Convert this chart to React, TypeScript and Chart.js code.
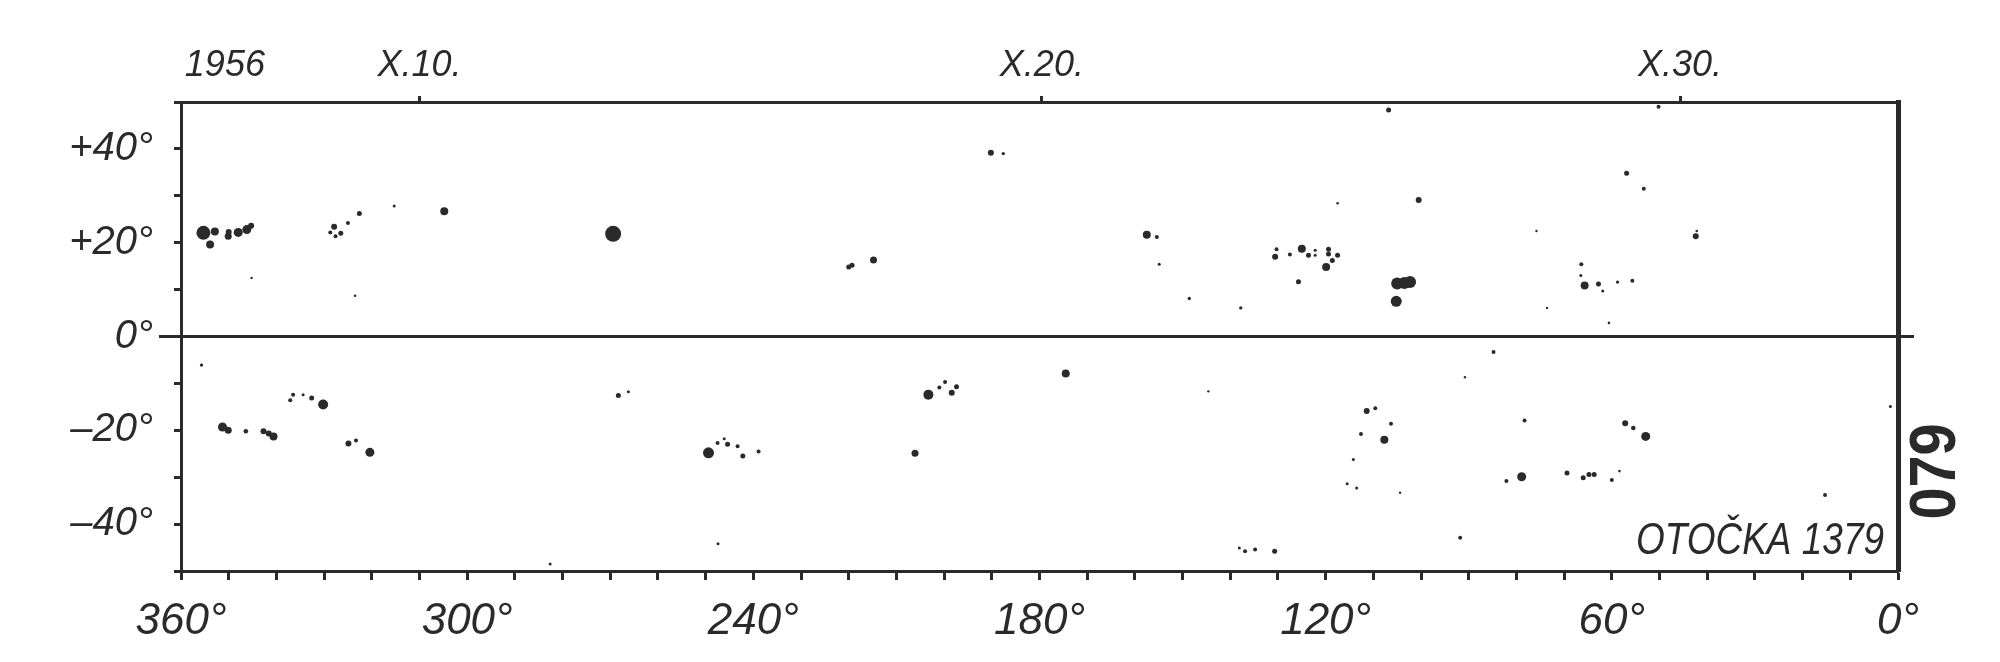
import React, { useEffect, useRef } from 'react';
import { Chart, registerables } from 'chart.js';

Chart.register(...registerables);

const INK = '#2a2a2a';
const FONT = '"Liberation Sans", Arial, sans-serif';
const INK_SPREAD = 0.5;

// Carrington longitude (deg), heliographic latitude (deg), spot radius (px) — northern hemisphere
const northLon = [355.3, 352.9, 353.9, 350.1, 350.0, 348.0, 346.2, 345.3, 327.9, 328.7, 326.5, 327.6, 325.0, 322.6, 315.3, 304.8, 323.5, 345.2,
  269.4, 190.2, 187.6, 220.0, 219.3, 214.8, 157.5, 155.4, 154.9, 148.6, 137.8,
  130.6, 130.3, 127.5, 125.0, 123.6, 122.2, 122.2, 119.4, 119.4, 119.9, 118.6, 117.5, 125.7, 117.5,
  106.8, 100.5, 105.0, 103.5, 102.3, 105.2, 66.4, 66.5, 65.7, 62.8, 61.9, 58.8, 56.9, 75.8, 73.6, 60.6,
  50.2, 53.3, 42.4, 42.2, 55.7];
const northLat = [22.1, 22.4, 19.6, 21.4, 22.3, 22.2, 22.8, 23.6, 23.4, 22.2, 22.0, 21.4, 24.2, 26.2, 27.8, 26.7, 8.7, 12.5,
  21.9, 39.2, 39.0, 14.8, 15.2, 16.3, 21.7, 21.2, 15.4, 8.1, 6.1,
  17.0, 18.6, 17.5, 18.7, 17.3, 18.4, 17.3, 18.6, 17.6, 14.8, 16.2, 17.3, 11.7, 28.4,
  48.3, 29.1, 11.3, 11.4, 11.6, 7.5, 15.4, 13.0, 10.9, 11.2, 9.7, 11.6, 34.8, 22.5, 6.1, 2.9,
  49.0, 31.5, 21.4, 22.5, 11.9];
const northSize = [6.5, 3.5, 3.5, 3, 2.5, 4, 4, 2.5, 2.5, 1.5, 2, 1.5, 1.5, 2, 1, 3.5, 0.8, 0.7,
  7.5, 2.5, 1.2, 2, 2, 3, 3.5, 1.5, 1, 1.2, 1.2,
  2.5, 1.5, 1.5, 3.5, 2, 1, 1, 2, 2, 3.5, 2, 2, 2, 0.8,
  2, 2.5, 5.5, 5.5, 5.5, 5, 1.5, 1, 3.5, 2, 1, 1.2, 2, 0.7, 0.7, 0.8,
  1.5, 1.5, 2.5, 0.8, 1.5];

// southern hemisphere
const southLon = [355.7, 351.3, 350.1, 346.4, 342.7, 341.6, 340.6, 336.5, 337.1, 334.4, 332.6, 330.2, 324.9, 323.3, 320.4,
  268.3, 266.2, 249.4, 247.5, 246.1, 245.4, 243.3, 242.2, 238.9, 247.4, 282.6,
  203.3, 201.0, 199.8, 198.4, 197.4, 206.1, 174.5, 144.6, 138.1, 136.9, 134.8, 130.7,
  84.8, 90.8, 111.4, 109.6, 106.3, 112.6, 107.7, 114.2, 115.5, 113.5, 104.4,
  78.3, 82.1, 78.9, 69.4, 66.0, 64.8, 63.7, 60.0, 58.4, 57.2, 55.5, 52.9, 91.8, 15.3, 1.6];
const southLat = [-6.1, -19.3, -20.0, -20.2, -20.2, -20.7, -21.3, -12.4, -13.6, -12.4, -13.1, -14.5, -22.8, -22.2, -24.7,
  -12.6, -11.8, -24.8, -22.7, -21.8, -23.0, -23.4, -25.5, -24.5, -44.2, -48.5,
  -12.4, -10.9, -9.7, -12.0, -10.7, -24.9, -7.9, -11.7, -45.1, -45.8, -45.4, -45.8,
  -3.3, -8.7, -15.9, -15.3, -18.6, -20.8, -22.0, -26.2, -31.4, -32.3, -33.3,
  -17.9, -30.8, -29.9, -29.1, -30.1, -29.4, -29.4, -30.6, -28.7, -18.5, -19.5, -21.3, -42.9, -33.8, -14.9];
const southSize = [1.2, 4, 3, 1.8, 2.5, 2.5, 3.5, 1.5, 1.5, 1, 2, 4.5, 2.5, 1.5, 4,
  2, 1, 5, 1.5, 1, 2, 1.5, 2, 1.5, 1, 1,
  4.5, 1.5, 1.5, 2.5, 2, 3, 3.5, 0.7, 1, 1.5, 1.5, 2,
  1.5, 0.7, 2.5, 1.5, 1.5, 1.5, 3.5, 1, 1, 1, 0.7,
  1.5, 1.5, 4, 2, 2, 2, 2, 1.5, 0.8, 2.5, 1.8, 4, 1.5, 1.5, 1];

// axis labels
const xLabelValues = [360, 300, 240, 180, 120, 60, 0];
const xLabelTexts = ['360°', '300°', '240°', '180°', '120°', '60°', '0°'];
const yLabelValues = [40, 20, 0, -20, -40];
const yLabelTexts = ['+40°', '+20°', '0°', '–20°', '–40°'];
const topTickValues = [350.8, 310.0, 179.5, 45.7];
const topTickTexts = ['1956', 'X.10.', 'X.20.', 'X.30.'];
const plateLabel = 'OTOČKA 1379';
const plateNumber = '079';

const toPoints = (lon: number[], lat: number[], size: number[]) =>
  lon.map((x, i) => ({ x, y: lat[i], r: size[i] + INK_SPREAD }));

const extras = {
  id: 'extras',
  beforeDatasetsDraw(chart: any) {
    const { ctx, chartArea } = chart;
    const y0 = chart.scales.y.getPixelForValue(0);
    ctx.save();
    ctx.strokeStyle = INK;
    ctx.lineWidth = 3;
    ctx.beginPath();
    ctx.moveTo(chartArea.left - 22, y0);
    ctx.lineTo(chartArea.right + 16, y0);
    ctx.stroke();
    ctx.restore();
  },
  afterDraw(chart: any) {
    const { ctx, chartArea } = chart;
    const sx = 0.84;
    ctx.save();
    ctx.fillStyle = INK;
    ctx.translate(chartArea.right - 14, chartArea.bottom - 17);
    ctx.scale(sx, 1);
    ctx.font = `italic 44px ${FONT}`;
    ctx.textAlign = 'right';
    ctx.textBaseline = 'alphabetic';
    ctx.fillText(plateLabel, 0, 0);
    ctx.restore();

    ctx.save();
    ctx.fillStyle = INK;
    ctx.translate(chartArea.right + 39, chart.scales.y.getPixelForValue(-28.8));
    ctx.rotate(-Math.PI / 2);
    ctx.scale(0.9, 1);
    ctx.font = `bold 64px ${FONT}`;
    ctx.textAlign = 'center';
    ctx.textBaseline = 'middle';
    ctx.fillText(plateNumber, 0, 0);
    ctx.restore();
  },
};

export default function App() {
  const ref = useRef<HTMLCanvasElement | null>(null);

  useEffect(() => {
    if (!ref.current) return;
    const chart = new Chart(ref.current, {
      type: 'bubble',
      data: {
        datasets: [
          { label: 'N', data: toPoints(northLon, northLat, northSize), backgroundColor: INK, borderWidth: 0, xAxisID: 'x', yAxisID: 'y' },
          { label: 'S', data: toPoints(southLon, southLat, southSize), backgroundColor: INK, borderWidth: 0, xAxisID: 'x', yAxisID: 'y' },
        ],
      },
      options: {
        responsive: false,
        maintainAspectRatio: false,
        devicePixelRatio: 1,
        animation: false,
        events: [],
        layout: { padding: 0 },
        plugins: { legend: { display: false }, tooltip: { enabled: false } },
        scales: {
          x: {
            type: 'linear', position: 'bottom', min: 0, max: 360, reverse: true,
            afterFit: (s: any) => { s.height = 91; },
            ticks: {
              stepSize: 10, autoSkip: false, maxRotation: 0, padding: 15, color: INK,
              font: { family: FONT, size: 44, style: 'italic' },
              callback: (v: any) => { const i = xLabelValues.indexOf(Number(v)); return i >= 0 ? xLabelTexts[i] : ''; },
            },
            grid: { drawOnChartArea: false, drawTicks: true, tickLength: 9, tickWidth: 3, tickColor: INK },
            border: { display: true, color: INK, width: 3 },
          },
          xTop: {
            type: 'linear', position: 'top', min: 0, max: 360, reverse: true,
            afterFit: (s: any) => { s.height = 102; },
            afterBuildTicks: (s: any) => { s.ticks = topTickValues.map((value) => ({ value })); },
            ticks: {
              autoSkip: false, maxRotation: 0, padding: 8, color: INK,
              font: { family: FONT, size: 36, style: 'italic' },
              callback: (_v: any, i: number) => topTickTexts[i],
            },
            grid: {
              drawOnChartArea: false, drawTicks: true, tickLength: 6, tickWidth: 3,
              tickColor: (c: any) => (c.index === 0 ? 'rgba(0,0,0,0)' : INK),
            },
            border: { display: true, color: INK, width: 3 },
          },
          y: {
            type: 'linear', position: 'left', min: -50, max: 50,
            afterFit: (s: any) => { s.width = 181; },
            ticks: {
              stepSize: 10, autoSkip: false, padding: 21, color: INK,
              font: { family: FONT, size: 40, style: 'italic' },
              callback: (v: any) => { const i = yLabelValues.indexOf(Number(v)); return i >= 0 ? yLabelTexts[i] : ''; },
            },
            grid: { drawOnChartArea: false, drawTicks: true, tickLength: 7, tickWidth: 3, tickColor: INK },
            border: { display: true, color: INK, width: 3 },
          },
          yRight: {
            type: 'linear', position: 'right', min: -50, max: 50,
            afterFit: (s: any) => { s.width = 102; },
            ticks: { display: false },
            grid: { display: false, drawTicks: false },
            border: { display: true, color: INK, width: 5 },
          },
        },
      },
      plugins: [extras],
    } as any);
    return () => chart.destroy();
  }, []);

  return (
    <div style={{ position: 'absolute', left: 0, top: 0, width: 2000, height: 662, background: '#fff' }}>
      <canvas ref={ref} width={2000} height={662} style={{ display: 'block', width: 2000, height: 662 }} />
    </div>
  );
}
